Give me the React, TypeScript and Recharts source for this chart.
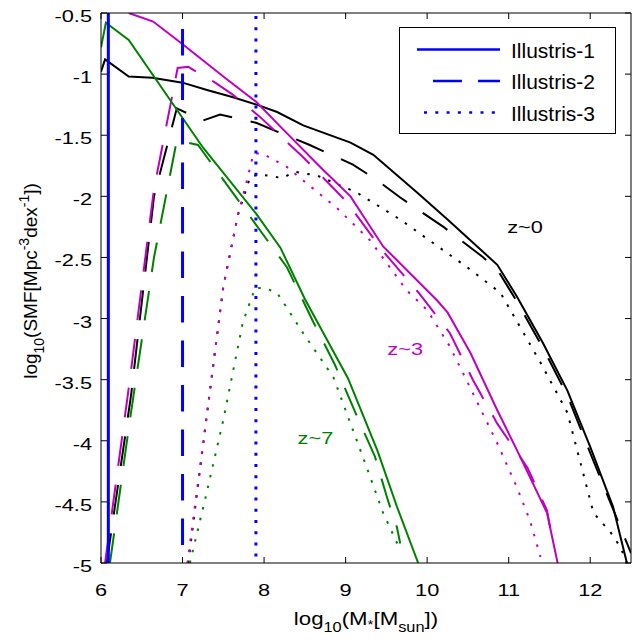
import { LineChart, Line, XAxis, YAxis, ReferenceLine, ReferenceDot } from 'recharts'

type Pt = [number, number]

const FONT = '"Liberation Sans", Arial, Helvetica, sans-serif'
const STRETCH = 1.28
const TICK_LEN = 6

const BLACK = '#000000'
const MAGENTA = '#bf00bf'
const GREEN = '#008000'
const BLUE = '#0000ff'

const SOLID = undefined
const DASHED = '30 19'
const DOTTED = '2.5 8.5'

const xTicks = [6, 7, 8, 9, 10, 11, 12]
const yTicks = [-5, -4.5, -4, -3.5, -3, -2.5, -2, -1.5, -1, -0.5]

// mass resolution limit of each run
const limitIll1 = 6.09
const limitIll2 = 7
const limitIll3 = 7.9

// z~0
const z0Ill1: Pt[] = [
  [6.0, -0.98], [6.05, -0.88], [6.34, -1.02], [6.63, -1.03], [7.0, -1.07], [7.3, -1.13],
  [7.62, -1.19], [7.91, -1.25], [8.16, -1.31], [8.48, -1.42], [9.06, -1.56], [9.34, -1.66],
  [9.88, -1.97], [10.25, -2.19], [10.86, -2.56], [11.1, -2.82], [11.42, -3.2], [11.72, -3.59],
  [12.0, -4.05], [12.28, -4.54], [12.45, -5.0],
]
const z0Ill2: Pt[] = [
  [6.07, -5.0], [6.37, -3.62], [6.65, -2.0], [6.93, -1.28], [7.25, -1.38], [7.46, -1.33],
  [7.91, -1.4], [8.16, -1.47], [8.56, -1.58], [9.09, -1.74], [9.39, -1.87], [9.67, -2.01],
  [10.2, -2.25], [10.69, -2.5], [10.88, -2.62], [11.1, -2.86], [11.42, -3.24], [11.72, -3.63],
  [12.0, -4.1], [12.28, -4.56], [12.5, -4.92],
]
const z0Ill3: Pt[] = [
  [7.07, -5.0], [7.3, -3.78], [7.5, -2.74], [7.68, -2.15], [7.83, -1.84], [7.95, -1.82],
  [8.22, -1.85], [8.38, -1.8], [8.65, -1.83], [9.14, -1.97], [9.67, -2.19], [10.49, -2.58],
  [10.9, -2.79], [11.39, -3.36], [11.72, -3.77], [12.04, -4.59], [12.25, -4.75], [12.37, -4.87],
  [12.45, -5.0],
]

// z~3
const z3Ill1: Pt[] = [
  [6.34, -0.5], [6.64, -0.57], [6.97, -0.74], [7.5, -1.02], [7.91, -1.23], [8.23, -1.45],
  [8.72, -1.78], [9.06, -2.0], [9.46, -2.41], [10.12, -2.85], [10.25, -2.95], [10.53, -3.28],
  [10.86, -3.75], [11.14, -4.13], [11.47, -4.59], [11.6, -5.0],
]
const z3Ill2: Pt[] = [
  [6.05, -5.0], [6.35, -3.52], [6.65, -1.94], [6.94, -0.95], [7.07, -0.94], [7.4, -1.07],
  [7.62, -1.17], [7.95, -1.35], [8.48, -1.68], [9.02, -2.05], [9.46, -2.45], [9.91, -2.8],
  [10.28, -3.12], [10.56, -3.5], [10.86, -3.86], [11.23, -4.22], [11.47, -4.57], [11.52, -4.75],
]
const z3Ill3: Pt[] = [
  [7.06, -5.0], [7.3, -3.78], [7.5, -2.74], [7.68, -2.15], [7.79, -1.87], [7.87, -1.65],
  [7.98, -1.65], [8.28, -1.76], [8.48, -1.87], [8.9, -2.1], [9.3, -2.36], [9.75, -2.77],
  [10.0, -2.93], [10.28, -3.23], [10.56, -3.61], [10.86, -4.02], [11.1, -4.38], [11.26, -4.65],
  [11.39, -4.95],
]

// z~7
const z7Ill1: Pt[] = [
  [6.0, -0.78], [6.06, -0.58], [6.34, -0.72], [7.25, -1.6], [7.9, -2.14], [8.2, -2.42],
  [8.5, -2.84], [9.03, -3.49], [9.39, -4.08], [9.63, -4.54], [9.89, -5.0],
]
const z7Ill2: Pt[] = [
  [6.11, -5.0], [6.35, -3.85], [6.65, -2.5], [6.93, -1.54], [7.19, -1.58], [7.55, -1.91],
  [8.28, -2.58], [8.59, -3.01], [8.87, -3.38], [9.12, -3.77], [9.36, -4.13], [9.52, -4.49],
  [9.63, -4.71], [9.67, -4.84],
]
const z7Ill3: Pt[] = [
  [7.09, -5.0], [7.28, -4.47], [7.5, -3.83], [7.74, -3.03], [7.89, -2.75], [8.01, -2.75],
  [8.16, -2.79], [8.48, -3.12], [8.85, -3.48], [9.26, -4.22], [9.46, -4.59], [9.64, -4.85],
]

const legendNames = ['Illustris-1', 'Illustris-2', 'Illustris-3']

const zLabels = [
  { text: 'z~0', x: 11.2, y: -2.25, color: BLACK },
  { text: 'z~3', x: 9.73, y: -3.25, color: MAGENTA },
  { text: 'z~7', x: 8.63, y: -3.98, color: GREEN },
]

const rows = (pts: Pt[]) => pts.map(([x, y]) => ({ x, y }))

const series = [
  { key: 'z0-1', pts: z0Ill1, color: BLACK, dash: SOLID },
  { key: 'z0-2', pts: z0Ill2, color: BLACK, dash: DASHED },
  { key: 'z0-3', pts: z0Ill3, color: BLACK, dash: DOTTED },
  { key: 'z3-1', pts: z3Ill1, color: MAGENTA, dash: SOLID },
  { key: 'z3-2', pts: z3Ill2, color: MAGENTA, dash: DASHED },
  { key: 'z3-3', pts: z3Ill3, color: MAGENTA, dash: DOTTED },
  { key: 'z7-1', pts: z7Ill1, color: GREEN, dash: SOLID },
  { key: 'z7-2', pts: z7Ill2, color: GREEN, dash: DASHED },
  { key: 'z7-3', pts: z7Ill3, color: GREEN, dash: DOTTED },
]

// ticks point into the plot box, like the matlab original
function BottomTick({ x, y, payload }: any) {
  return (
    <g>
      <line x1={x} x2={x} y1={y} y2={y - TICK_LEN} stroke="#000" />
      <g transform={`translate(${x},${y + 33})`}>
        <text transform={`scale(${STRETCH},1)`} textAnchor="middle" fontSize={17} fontFamily={FONT} fill="#000">
          {payload.value}
        </text>
      </g>
    </g>
  )
}

function LeftTick({ x, y, payload }: any) {
  return (
    <g>
      <line x1={x} x2={x + TICK_LEN} y1={y} y2={y} stroke="#000" />
      <g transform={`translate(${x - 9},${y + 9})`}>
        <text transform={`scale(${STRETCH},1)`} textAnchor="end" fontSize={17} fontFamily={FONT} fill="#000">
          {payload.value}
        </text>
      </g>
    </g>
  )
}

const TopTick = ({ x, y }: any) => <line x1={x} x2={x} y1={y} y2={y + TICK_LEN} stroke="#000" />
const RightTick = ({ x, y }: any) => <line x1={x} x2={x - TICK_LEN} y1={y} y2={y} stroke="#000" />

function XTitle({ viewBox }: any) {
  const cx = viewBox.x + viewBox.width / 2
  return (
    <g transform={`translate(${cx},${viewBox.y + 62})`}>
      <text transform="scale(1.17,1)" textAnchor="middle" fontSize={19} fontFamily={FONT} fill="#000">
        log
        <tspan fontSize={14} dy={7}>10</tspan>
        <tspan dy={-7}>(M</tspan>
        <tspan fontSize={13} dy={4}>*</tspan>
        <tspan dy={-4}>[M</tspan>
        <tspan fontSize={14} dy={7}>sun</tspan>
        <tspan dy={-7}>])</tspan>
      </text>
    </g>
  )
}

function YTitle({ viewBox }: any) {
  const cy = viewBox.y + viewBox.height / 2 - 7
  return (
    <text
      transform={`translate(37,${cy}) rotate(-90)`}
      textAnchor="middle"
      fontSize={19}
      fontFamily={FONT}
      fill="#000"
    >
      log
      <tspan fontSize={14} dy={7}>10</tspan>
      <tspan dy={-7}>(SMF[Mpc</tspan>
      <tspan fontSize={14} dy={-8}>-3</tspan>
      <tspan dy={8}>dex</tspan>
      <tspan fontSize={14} dy={-8}>-1</tspan>
      <tspan dy={8}>])</tspan>
    </text>
  )
}

function Legend() {
  const samples = [
    { x1: 417, dash: SOLID },
    { x1: 433, dash: '29 16' },
    { x1: 424, dash: '3 8.3' },
  ]
  return (
    <svg
      width={637}
      height={643}
      style={{ position: 'absolute', left: 0, top: 0, pointerEvents: 'none' }}
    >
      <rect x={399.5} y={27.5} width={216} height={106} fill="#fff" stroke="#000" strokeWidth={1} />
      {legendNames.map((name, i) => {
        const y = 49.5 + i * 31.5
        return (
          <g key={name}>
            <line
              x1={samples[i].x1}
              x2={500}
              y1={y}
              y2={y}
              stroke={BLUE}
              strokeWidth={2.6}
              strokeDasharray={samples[i].dash}
            />
            <text x={511} y={y + 8} fontSize={21} fontFamily={FONT} fill="#000">
              {name}
            </text>
          </g>
        )
      })}
    </svg>
  )
}

export default function App() {
  return (
    <div style={{ position: 'absolute', left: 0, top: 0, width: 637, height: 643, background: '#fff' }}>
      <LineChart width={637} height={643} margin={{ top: 12, right: 5, bottom: 0, left: 0 }}>
        <XAxis
          xAxisId="b"
          type="number"
          dataKey="x"
          domain={[6, 12.5]}
          ticks={xTicks}
          interval={0}
          allowDataOverflow
          orientation="bottom"
          height={80}
          tickSize={0}
          tickMargin={0}
          tickLine={false}
          tick={(p: any) => <BottomTick {...p} />}
          axisLine={{ stroke: '#000' }}
          label={{ content: (p: any) => <XTitle {...p} /> }}
        />
        <XAxis
          xAxisId="t"
          type="number"
          dataKey="x"
          domain={[6, 12.5]}
          ticks={xTicks}
          interval={0}
          allowDataOverflow
          orientation="top"
          height={1}
          tickSize={0}
          tickMargin={0}
          tickLine={false}
          tick={(p: any) => <TopTick {...p} />}
          axisLine={{ stroke: '#000' }}
        />
        <YAxis
          yAxisId="l"
          type="number"
          domain={[-5, -0.5]}
          ticks={yTicks}
          interval={0}
          allowDataOverflow
          orientation="left"
          width={101}
          tickSize={0}
          tickMargin={0}
          tickLine={false}
          tick={(p: any) => <LeftTick {...p} />}
          axisLine={{ stroke: '#000' }}
          label={{ content: (p: any) => <YTitle {...p} /> }}
        />
        <YAxis
          yAxisId="r"
          type="number"
          domain={[-5, -0.5]}
          ticks={yTicks}
          interval={0}
          allowDataOverflow
          orientation="right"
          width={1}
          tickSize={0}
          tickMargin={0}
          tickLine={false}
          tick={(p: any) => <RightTick {...p} />}
          axisLine={{ stroke: '#000' }}
        />
        {series.map((s) => (
          <Line
            key={s.key}
            xAxisId="b"
            yAxisId="l"
            data={rows(s.pts)}
            dataKey="y"
            type="linear"
            stroke={s.color}
            strokeWidth={2}
            strokeDasharray={s.dash}
            dot={false}
            activeDot={false}
            isAnimationActive={false}
          />
        ))}
        <ReferenceLine xAxisId="b" yAxisId="l" x={limitIll1} stroke={BLUE} strokeWidth={3} />
        <ReferenceLine
          xAxisId="b"
          yAxisId="l"
          segment={[{ x: limitIll2, y: -0.5 }, { x: limitIll2, y: -5 }]}
          stroke={BLUE}
          strokeWidth={3}
          strokeDasharray="26.5 18"
          strokeDashoffset={28.5}
        />
        <ReferenceLine
          xAxisId="b"
          yAxisId="l"
          segment={[{ x: limitIll3, y: -0.5 }, { x: limitIll3, y: -5 }]}
          stroke={BLUE}
          strokeWidth={3}
          strokeDasharray="3 8.2"
          strokeDashoffset={8.2}
        />
        {zLabels.map((z) => (
          <ReferenceDot
            key={z.text}
            xAxisId="b"
            yAxisId="l"
            x={z.x}
            y={z.y}
            r={1}
            fill="none"
            stroke="none"
            label={{
              content: ({ viewBox }: any) => (
                <g transform={`translate(${viewBox.x + viewBox.width / 2},${viewBox.y + viewBox.height / 2 + 6})`}>
                  <text transform={`scale(${STRETCH},1)`} textAnchor="middle" fontSize={17} fontFamily={FONT} fill={z.color}>
                    {z.text}
                  </text>
                </g>
              ),
            }}
          />
        ))}
      </LineChart>
      <Legend />
    </div>
  )
}
